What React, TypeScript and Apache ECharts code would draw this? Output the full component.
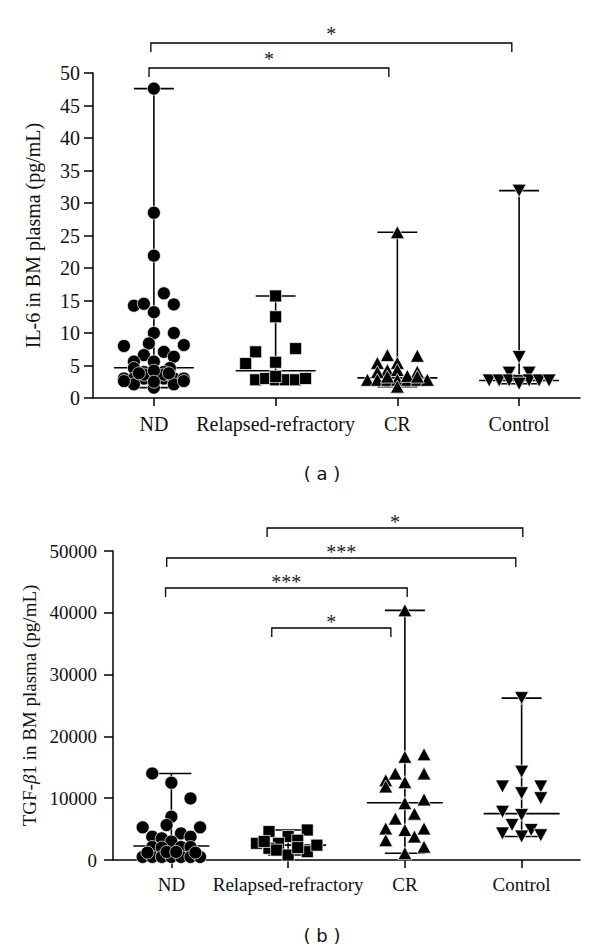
import React, { useEffect, useRef } from "react";
import * as echarts from "echarts";

// ---------- data ----------
const categories = ["ND", "Relapsed-refractory", "CR", "Control"];

// Panel (a): IL-6 in BM plasma (pg/mL). Each point: [jitter slot, value]
const il6ND: [number, number][] = [
  [0, 47.6], [0, 28.5], [0, 21.9], [1, 16.1], [-2, 14.2], [-1, 14.5], [0, 13.2], [2, 14.4],
  [0, 10.0], [2, 10.0], [-3, 8.0], [-0.5, 8.4], [3, 8.15], [1, 7.1], [2, 6.35], [-1, 6.6],
  [-2, 5.6], [0, 5.6], [-2, 4.6], [1.6, 4.6], [-1, 4.0], [1, 4.0], [-3, 3.0], [-2, 3.0],
  [-1, 3.0], [0, 3.0], [1, 3.0], [2, 3.0], [3, 3.0], [-2, 2.1], [0, 1.6], [2, 2.1],
  [-1, 3.6], [1, 3.6], [0, 4.2], [-3, 2.6], [3, 2.6], [-1.5, 3.8], [1.5, 3.8], [0, 2.5],
];
const il6RR: [number, number][] = [
  [0, 15.7], [0, 12.5], [-2, 7.1], [2, 7.6], [-3, 5.3], [0, 5.5], [-2, 2.8], [-1, 3.0],
  [0, 2.8], [1, 2.8], [2, 2.8], [3, 3.0], [0, 3.3],
];
const il6CR: [number, number][] = [
  [0, 25.5], [-1, 6.6], [2, 6.5], [-2, 5.4], [0, 5.4], [-1, 4.3], [0, 4.3], [-2, 4.0],
  [2, 4.05], [-3, 2.8], [-2, 2.8], [-1, 2.8], [0, 2.8], [1, 2.8], [2, 2.8], [3, 2.8],
  [0, 1.75], [1, 3.4], [-1, 3.3], [2, 3.3],
];
const il6Control: [number, number][] = [
  [0, 31.9], [0, 6.3], [-1, 3.9], [1, 3.9], [-3, 2.7], [-2, 2.7], [-1, 2.7], [0, 2.6],
  [1, 2.7], [2, 2.7], [3, 2.7], [0, 2.2],
];
const il6Medians = [4.66, 4.2, 3.1, 2.7];
const il6Axis = { min: 0, max: 50, interval: 5 };
const il6Brackets = [
  { from: -0.025, to: 2.94, label: "*" },
  { from: -0.04, to: 1.93, label: "*" },
];

// Panel (b): TGF-β1 in BM plasma (pg/mL)
const tgfND: [number, number][] = [
  [-2, 14000], [0, 12500], [2, 9970], [0, 7000], [-0.5, 5660], [-3, 5280], [3, 5280],
  [-2, 3770], [1, 4300], [2, 3770], [-1, 3500], [0, 3000], [-2, 2100], [-1, 2000],
  [1, 2100], [2, 2100], [-3, 500], [-2, 500], [-1, 500], [0, 500], [1, 500], [2, 500],
  [3, 500], [-0.5, 1300], [0.5, 1300], [-2.5, 1200], [2.5, 1200],
];
const tgfRR: [number, number][] = [
  [-2, 4600], [2, 4850], [0, 3800], [-3.3, 2700], [-1, 2700], [1, 3200], [-2, 1900],
  [-1.2, 1600], [0, 800], [2, 1350], [3, 2400], [-2.5, 3000], [1, 2000],
];
const tgfCR: [number, number][] = [
  [0, 40400], [0, 16700], [2, 17100], [-1, 14000], [2, 14000], [-2, 12900], [-2, 11900],
  [0, 12600], [2, 9800], [0, 9200], [1, 7500], [-1, 6700], [-2, 5100], [2, 5100],
  [0, 4850], [-2, 3200], [1, 3800], [2, 2150], [0, 1100],
];
const tgfControl: [number, number][] = [
  [0, 26200], [0, 14300], [-2, 11900], [2, 11900], [0, 10800], [2, 10000], [-2, 7800],
  [0, 7300], [-1, 5660], [1, 4850], [-2, 4300], [0, 3800], [2, 4000],
];
const tgfMedians = [2260, 2400, 9270, 7500];
const tgfAxis = { min: 0, max: 50000, interval: 10000 };
const tgfBrackets = [
  { from: 0.82, to: 3.01, label: "*" },
  { from: -0.04, to: 2.95, label: "***" },
  { from: -0.05, to: 2.02, label: "***" },
  { from: 0.86, to: 1.88, label: "*" },
];

// ---------- layout / style ----------
const SLOT = 0.082; // jitter slot width in category units
const il6BracketLevels = [-30, -5]; // px relative to grid top
const tgfBracketLevels = [-23, 7, 37, 77];
const SERIF = "'Liberation Serif', 'Times New Roman', serif";
const INK = "#111";

const symbols = [
  { symbol: "circle", size: 13, rotate: 0 },
  { symbol: "rect", size: 12, rotate: 0 },
  { symbol: "triangle", size: [14, 13], rotate: 0 },
  { symbol: "triangle", size: [14, 13], rotate: 180 },
];

function whiskerRender(medHalf: number, capHalf: number) {
  return (params: any, api: any) => {
    const x = api.value(0);
    const lo = api.coord([x, api.value(1)]);
    const med = api.coord([x, api.value(2)]);
    const hi = api.coord([x, api.value(3)]);
    const st = { stroke: "#000", lineWidth: 1.6 };
    return {
      type: "group",
      children: [
        { type: "line", shape: { x1: lo[0], y1: lo[1], x2: hi[0], y2: hi[1] }, style: st },
        { type: "line", shape: { x1: hi[0] - capHalf, y1: hi[1], x2: hi[0] + capHalf, y2: hi[1] }, style: st },
        { type: "line", shape: { x1: lo[0] - capHalf, y1: lo[1], x2: lo[0] + capHalf, y2: lo[1] }, style: st },
        { type: "line", shape: { x1: med[0] - medHalf, y1: med[1], x2: med[0] + medHalf, y2: med[1] }, style: st },
      ],
    };
  };
}

function bracketRender(levels: number[], labels: string[], fontSize: number, textLift: number) {
  return (params: any, api: any) => {
    const i = params.dataIndex;
    const x1 = api.coord([api.value(0), 0])[0];
    const x2 = api.coord([api.value(1), 0])[0];
    const top = params.coordSys.y + levels[i];
    const drop = 9;
    return {
      type: "group",
      children: [
        {
          type: "polyline",
          shape: { points: [[x1, top + drop], [x1, top], [x2, top], [x2, top + drop]] },
          style: { stroke: "#000", lineWidth: 1.3, fill: "none" },
        },
        {
          type: "text",
          x: (x1 + x2) / 2,
          y: top - textLift,
          style: {
            text: labels[i],
            fill: "#222",
            font: `${fontSize}px ${SERIF}`,
            align: "center",
            verticalAlign: "middle",
            textAlign: "center",
            textVerticalAlign: "middle",
          },
        },
      ],
    };
  };
}

function buildPanel(
  groups: [number, number][][],
  medians: number[],
  brackets: { from: number; to: number; label: string }[],
  levels: number[],
  gridIndex: number,
  medHalf: number,
  textLift: number
) {
  const xVal = gridIndex * 2;
  const series: any[] = groups.map((pts, gi) => ({
    type: "scatter",
    xAxisIndex: xVal,
    yAxisIndex: gridIndex,
    symbol: symbols[gi].symbol,
    symbolSize: symbols[gi].size,
    symbolRotate: symbols[gi].rotate,
    itemStyle: { color: "#000", borderColor: "#fff", borderWidth: 0.7, opacity: 1 },
    z: 3,
    silent: true,
    data: pts.map(([slot, v]) => [gi + slot * SLOT, v]),
  }));
  const stats = groups.map((pts, gi) => {
    const vals = pts.map((p) => p[1]);
    return [gi, Math.min(...vals), medians[gi], Math.max(...vals)];
  });
  series.push({
    type: "custom",
    xAxisIndex: xVal,
    yAxisIndex: gridIndex,
    renderItem: whiskerRender(medHalf, 20),
    data: stats,
    z: 2,
    silent: true,
  });
  series.push({
    type: "custom",
    xAxisIndex: xVal,
    yAxisIndex: gridIndex,
    clip: false,
    renderItem: bracketRender(levels, brackets.map((b) => b.label), 20, textLift),
    data: brackets.map((b) => [b.from, b.to]),
    z: 2,
    silent: true,
  });
  return series;
}

export default function App() {
  const ref = useRef<HTMLDivElement>(null);
  useEffect(() => {
    document.body.style.margin = "0";
    if (!ref.current) return;
    const chart = echarts.init(ref.current, undefined, { renderer: "svg" });

    const catAxis = (gridIndex: number, fontSize: number, margin: number) => ({
      type: "category",
      gridIndex,
      position: "bottom",
      data: categories,
      boundaryGap: true,
      axisLine: { show: true, onZero: false, lineStyle: { color: "#000", width: 1.5 } },
      axisTick: { show: true, alignWithLabel: true, length: 8, lineStyle: { color: "#000", width: 1.5 } },
      axisLabel: { color: INK, fontFamily: SERIF, fontSize, margin, interval: 0 },
      splitLine: { show: false },
    });
    const valX = (gridIndex: number) => ({
      type: "value",
      gridIndex,
      position: "bottom",
      min: -0.5,
      max: 3.5,
      show: false,
      axisLine: { onZero: false },
      splitLine: { show: false },
    });
    const valY = (gridIndex: number, ax: any, fontSize: number, margin: number, name: string, nameGap: number) => ({
      type: "value",
      gridIndex,
      position: "left",
      min: ax.min,
      max: ax.max,
      interval: ax.interval,
      name,
      nameLocation: "middle",
      nameGap,
      nameTextStyle: {
        color: INK,
        fontFamily: SERIF,
        fontSize,
        rich: { i: { fontStyle: "italic", fontFamily: SERIF, fontSize, color: INK } },
      },
      axisLine: { show: true, onZero: false, lineStyle: { color: "#000", width: 1.5 } },
      axisTick: { show: true, length: 9, lineStyle: { color: "#000", width: 1.5 } },
      axisLabel: { color: INK, fontFamily: SERIF, fontSize, margin, formatter: (v: number) => String(v) },
      splitLine: { show: false },
    });

    const option: any = {
      animation: false,
      backgroundColor: "#fff",
      grid: [
        { left: 93, top: 73, width: 487, height: 325 },
        { left: 113, top: 551, width: 467, height: 309 },
      ],
      xAxis: [valX(0), catAxis(0, 20, 16), valX(1), catAxis(1, 19, 15)],
      yAxis: [
        valY(0, il6Axis, 20, 13, "IL-6 in BM plasma (pg/mL)", 50),
        valY(1, tgfAxis, 19, 16, "TGF-{i|β}1 in BM plasma (pg/mL)", 73),
      ],
      series: [
        ...buildPanel([il6ND, il6RR, il6CR, il6Control], il6Medians, il6Brackets, il6BracketLevels, 0, 40, 9),
        ...buildPanel([tgfND, tgfRR, tgfCR, tgfControl], tgfMedians, tgfBrackets, tgfBracketLevels, 1, 38, 6),
      ],
      graphic: [
        {
          type: "text",
          x: 322,
          y: 473,
          style: {
            text: "( a )",
            font: "18px 'DejaVu Sans', sans-serif",
            fill: "#111",
            align: "center",
            verticalAlign: "middle",
            textAlign: "center",
            textVerticalAlign: "middle",
          },
        },
        {
          type: "text",
          x: 322,
          y: 935,
          style: {
            text: "( b )",
            font: "18px 'DejaVu Sans', sans-serif",
            fill: "#111",
            align: "center",
            verticalAlign: "middle",
            textAlign: "center",
            textVerticalAlign: "middle",
          },
        },
      ],
    };
    chart.setOption(option);
    return () => chart.dispose();
  }, []);
  return <div ref={ref} style={{ width: 600, height: 948 }} />;
}
